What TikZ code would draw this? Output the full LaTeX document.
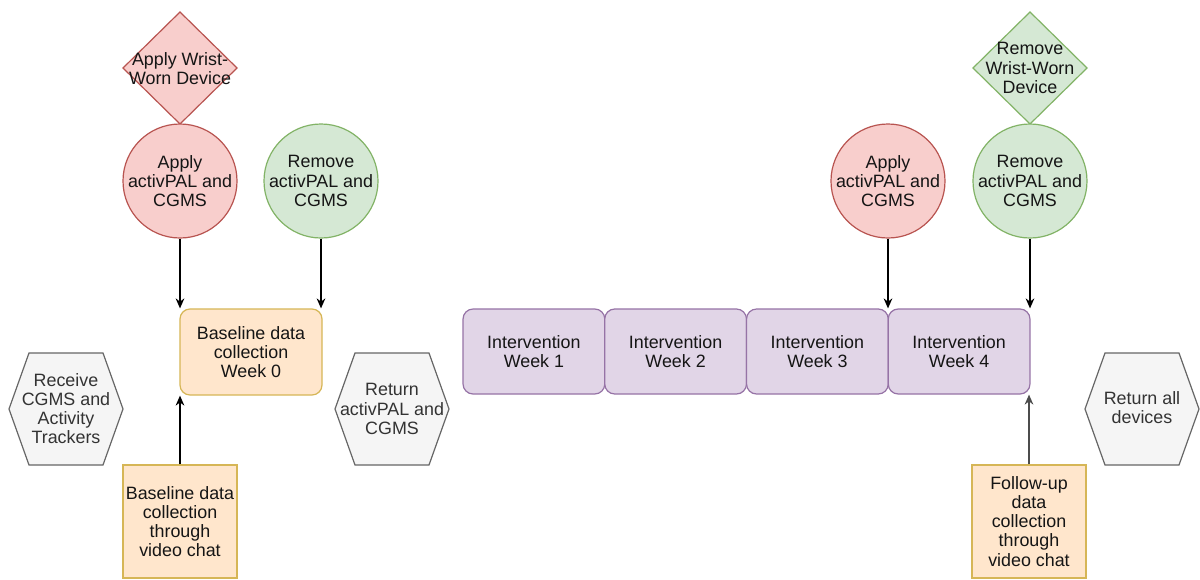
\documentclass[tikz,border=0pt]{standalone}
\usepackage{fontspec}
\setmainfont{Liberation Sans}
\usetikzlibrary{arrows.meta}
\definecolor{redf}{HTML}{F8CECC}
\definecolor{redd}{HTML}{B85450}
\definecolor{grnf}{HTML}{D5E8D4}
\definecolor{grnd}{HTML}{82B366}
\definecolor{orf}{HTML}{FFE6CC}
\definecolor{ord}{HTML}{D6B656}
\definecolor{purf}{HTML}{E1D5E7}
\definecolor{purd}{HTML}{9673A6}
\definecolor{gryf}{HTML}{F5F5F5}
\definecolor{gryd}{HTML}{666666}
\definecolor{txtc}{HTML}{151515}
\newcommand{\hexat}[3]{% center x, y, style
  \filldraw[#3] (#1-57,#2) -- ++(20,-56) -- ++(74,0) -- ++(20,56) -- ++(-20,56) -- ++(-74,0) -- cycle;}
\newcommand{\diamat}[3]{%
  \filldraw[#3] (#1,#2-56) -- ++(57,56) -- ++(-57,56) -- ++(-57,-56) -- cycle;}
\begin{document}
\begin{tikzpicture}[x=0.75pt,y=-0.75pt,
  lbl/.style={font=\fontsize{13.4}{14.3}\selectfont, text=txtc, align=center, inner sep=0pt},
  redshape/.style={fill=redf, draw=redd, line width=0.9pt},
  grnshape/.style={fill=grnf, draw=grnd, line width=0.9pt},
  grayshape/.style={fill=gryf, draw=gryd, line width=0.9pt},
  circ/.style={circle, minimum size=85.5pt, inner sep=0pt},
  basebox/.style={rectangle, rounded corners=7.5pt, fill=orf, draw=ord, line width=0.9pt,
    minimum width=106.5pt, minimum height=64.5pt, lbl},
  vidbox/.style={rectangle, fill=orf, draw=ord, line width=0.9pt,
    minimum width=85.5pt, minimum height=84.75pt, lbl},
  weekbox/.style={rectangle, rounded corners=7.5pt, fill=purf, draw=purd, line width=0.9pt,
    minimum width=106.3pt, minimum height=63.75pt, lbl},
  arr/.style={-{Stealth[length=7.5pt,width=6.5pt]}, line width=1.1pt, draw=black},
  arrg/.style={-{Stealth[length=7.5pt,width=6.5pt]}, line width=1.1pt, draw=black!70}]
\useasboundingbox[fill=white] (0,0) rectangle (1200,579);

% left diamond and circles
\diamat{180}{68}{redshape}
\node[lbl] (d1) at (180,69) {Apply Wrist-\\Worn Device};
\node[circ, redshape] (c1) at (180,181) {};
\node[lbl] (c1t) at (c1) {Apply\\activPAL and\\CGMS};
\node[circ, grnshape] (c2) at (321,181) {};
\node[lbl] (c2t) at (c2) {Remove\\activPAL and\\CGMS};

% baseline box
\node[basebox] (base) at (251,352) {Baseline data\\collection\\Week 0};

% hexagons
\hexat{66}{409}{grayshape}
\node[lbl, text=black!80] (hexL) at (66,409) {Receive\\CGMS and\\Activity\\Trackers};
\hexat{392}{409}{grayshape}
\node[lbl, text=black!80] (hexM) at (392,409) {Return\\activPAL and\\CGMS};
\hexat{1142}{409}{grayshape}
\node[lbl, text=black!80] (hexR) at (1142,408) {Return all\\devices};

% video chat boxes
\node[vidbox] (v1) at (180,521.5) {Baseline data\\collection\\through\\video chat};
\node[vidbox] (v2) at (1029,521.5) {Follow-up\\data\\collection\\through\\video chat};

% intervention weeks
\node[weekbox] (w1) at (533.9,351.5) {Intervention\\Week 1};
\node[weekbox] (w2) at (675.6,351.5) {Intervention\\Week 2};
\node[weekbox] (w3) at (817.4,351.5) {Intervention\\Week 3};
\node[weekbox] (w4) at (959.1,351.5) {Intervention\\Week 4};

% right circles and diamond
\diamat{1030}{68}{grnshape}
\node[lbl] (d2) at (1030,68) {Remove\\Wrist-Worn\\Device};
\node[circ, redshape] (c3) at (888,181) {};
\node[lbl] (c3t) at (c3) {Apply\\activPAL and\\CGMS};
\node[circ, grnshape] (c4) at (1030,181) {};
\node[lbl] (c4t) at (c4) {Remove\\activPAL and\\CGMS};

% connectors
\draw[arr] (c1.south) -- (c1.south |- base.north);
\draw[arr] (c2.south) -- (c2.south |- base.north);
\draw[arr] (v1.north) -- (v1.north |- base.south);
\draw[arr] (c3.south) -- (c3.south |- w4.north);
\draw[arr] (c4.south) -- (c4.south |- w4.north);
\draw[arrg] (v2.north) -- (v2.north |- w4.south);
\end{tikzpicture}
\end{document}
